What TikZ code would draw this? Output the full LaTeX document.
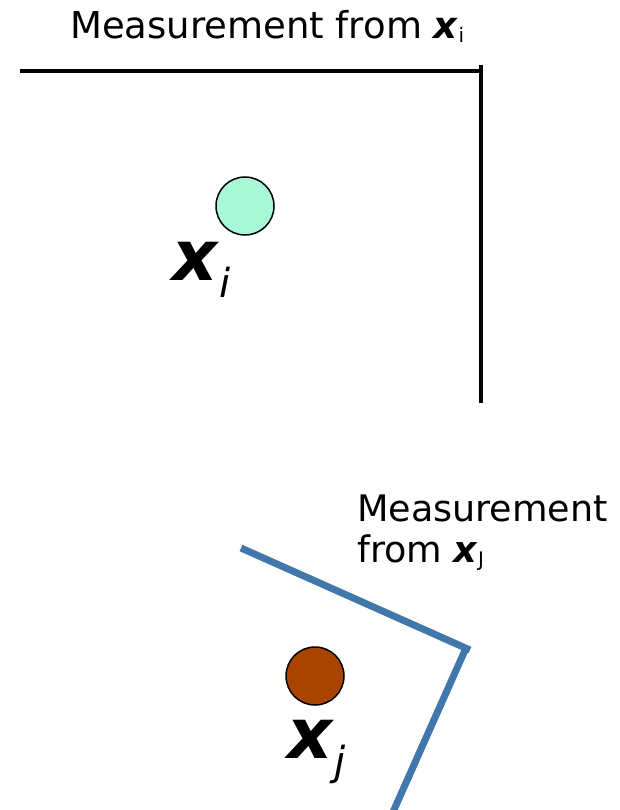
\documentclass[tikz,border=0pt]{standalone}
\usepackage{fontspec}
\setmainfont{DejaVu Sans}
\usetikzlibrary{positioning}
\definecolor{mintfill}{HTML}{A8F8D8}
\definecolor{rustfill}{HTML}{A84400}
\definecolor{wallblue}{HTML}{4177AA}

\newcommand{\bigvec}[1]{\fontsize{70}{70}\selectfont\textbf{\textit{x}}%
  \raisebox{-17pt}{\fontsize{40}{40}\selectfont\textit{#1}}}
\newcommand{\smallvec}[1]{\textbf{\textit{x}}%
  \raisebox{-4pt}{\fontsize{20}{20}\selectfont #1}}

\begin{document}
\begin{tikzpicture}[x=1pt, y=-1pt,
  point/.style={circle, draw=black, line width=1.5pt,
    minimum size=58pt, inner sep=0pt},
  ptlabel/.style={anchor=base west, inner sep=0pt},
  caption/.style={anchor=base west, inner sep=0pt, align=left},
  blackwall/.style={draw=black, line width=4pt},
  bluewall/.style={draw=wallblue, line width=7pt}
]
\useasboundingbox (0,0) rectangle (619,810);

%% -- measurement from x_i --
\node[caption, font=\fontsize{37}{37}\selectfont] (capi) at (70,39)
  {Measurement from \smallvec{i}};
\coordinate (bleft) at (20,71);
\coordinate (bcorner) at (483,71);
\coordinate (btop) at (481,65);
\coordinate (bbottom) at (481,403);
\draw[blackwall] (bleft) -- (bcorner);
\draw[blackwall] (btop) -- (bbottom);

\node[point, fill=mintfill] (xi) at (245,206) {};
\node[ptlabel] (xilab) at (172,280) {\bigvec{i}};

%% -- measurement from x_j --
\node[caption, font=\fontsize{36.5}{41}\selectfont] (capj) at (357,562)
  {Measurement\\from \smallvec{J}};
\coordinate (uleft) at (241,548);
\coordinate (ucorner) at (470,650);
\coordinate (ubottom) at (393,812);
\coordinate (ujoin) at (466,648);
\draw[bluewall] (uleft) -- (ucorner);
\draw[bluewall] (ujoin) -- (ubottom);

\node[point, fill=rustfill] (xj) at (315,676) {};
\node[ptlabel] (xjlab) at (287,758) {\bigvec{j}};

\end{tikzpicture}
\end{document}
